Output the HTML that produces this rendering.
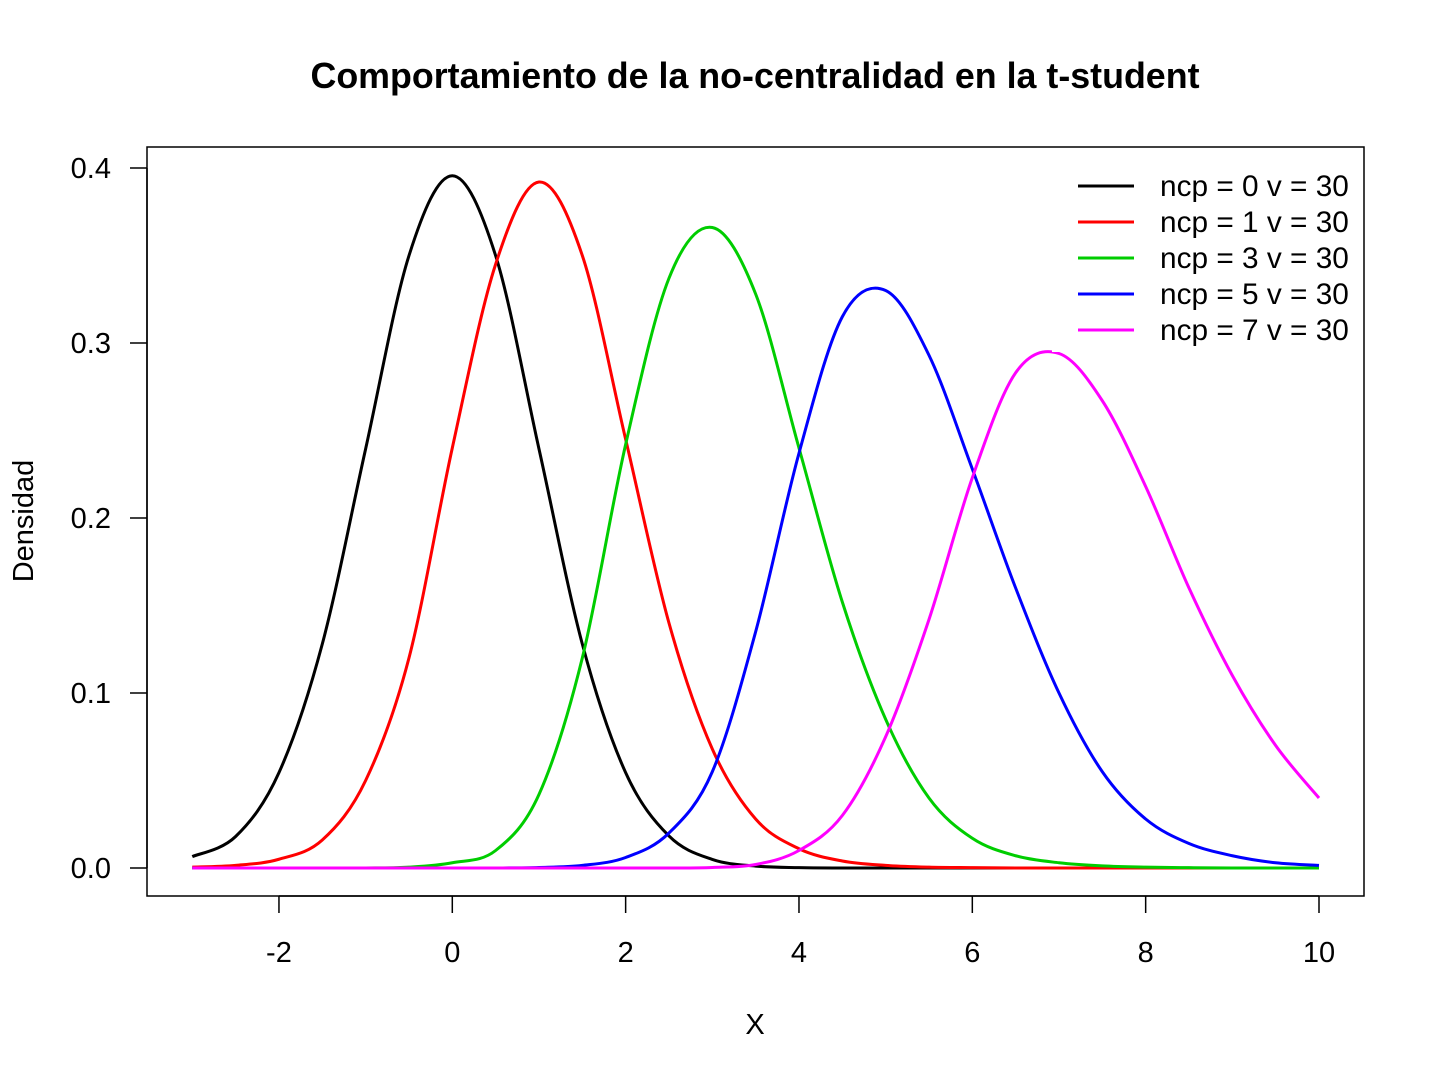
<!DOCTYPE html>
<html><head><meta charset="utf-8"><style>
body{margin:0;background:#fff;}
svg text{font-family:"Liberation Sans",Arial,sans-serif;}
</style></head><body>
<svg id="chart" width="1440" height="1080" viewBox="0 0 1440 1080" xmlns="http://www.w3.org/2000/svg">
<rect width="1440" height="1080" fill="#fff"/>
<text x="755" y="88" font-size="35.8" font-weight="bold" text-anchor="middle">Comportamiento de la no-centralidad en la t-student</text>
<text x="755" y="1034" font-size="29" text-anchor="middle">X</text>
<text x="33" y="521" font-size="29" text-anchor="middle" transform="rotate(-90 33 521)">Densidad</text>
<g id="series"></g>
<rect x="1052" y="163" width="310" height="189" fill="#fff"/>
<rect x="147" y="147" width="1217" height="749" fill="none" stroke="#000" stroke-width="1.5"/>
<g id="axes"></g>
<g id="legend"></g>
</svg>
<script>
const xs=[-3,-2.5,-2,-1.5,-1,-0.5,0,0.5,1,1.5,2,2.5,3,3.5,4,4.5,5,5.5,6,6.5,7,7.5,8,8.5,9,9.5,10];
const s0=[0.0065,0.018,0.0545,0.128,0.2395,0.3499,0.3956,0.3499,0.2395,0.128,0.0545,0.0183,0.0049,0.0011,0.0002,0,0,0,0,0,0,0,0,0,0,0,0];
const s1=[0.0005,0.0015,0.005,0.016,0.05,0.12,0.24,0.345,0.392,0.35,0.245,0.14,0.068,0.028,0.011,0.004,0.0015,0.0005,0.0002,0,0,0,0,0,0,0,0];
const s3=[0,0,0,0,0,0.0005,0.003,0.01,0.042,0.12,0.242,0.337,0.366,0.328,0.24,0.152,0.085,0.04,0.017,0.007,0.003,0.0012,0.0005,0.0002,0,0,0];
const s5=[0,0,0,0,0,0,0,0,0.0003,0.0015,0.006,0.02,0.055,0.135,0.237,0.315,0.33,0.293,0.228,0.16,0.1,0.055,0.028,0.014,0.007,0.003,0.0015];
const s7=[0,0,0,0,0,0,0,0,0,0,0,0,0.0003,0.002,0.01,0.03,0.075,0.142,0.223,0.283,0.294,0.267,0.218,0.16,0.11,0.07,0.04];
const seriesNames=["ncp = 0 v = 30","ncp = 1 v = 30","ncp = 3 v = 30","ncp = 5 v = 30","ncp = 7 v = 30"];
const seriesColors=["#000000","#ff0000","#00cd00","#0000ff","#ff00ff"];
const xTicks=[-2,0,2,4,6,8,10];
const yTicks=[0,0.1,0.2,0.3,0.4];
const yTickLabels=["0.0","0.1","0.2","0.3","0.4"];
const allSeries=[s0,s1,s3,s5,s7];
const NS="http://www.w3.org/2000/svg";
const X=v=>452.3+v*86.67, Y=v=>868-v*1750;
function mk(t,a,p){const e=document.createElementNS(NS,t);for(const k in a)e.setAttribute(k,a[k]);p.appendChild(e);return e;}
const sg=document.getElementById('series');
allSeries.forEach((s,i)=>{
  const P=xs.map((x,j)=>[X(x),Y(s[j])]);
  let d=`M${P[0][0]},${P[0][1]}`;
  for(let j=0;j<P.length-1;j++){const p0=P[Math.max(j-1,0)],p1=P[j],p2=P[j+1],p3=P[Math.min(j+2,P.length-1)];
    d+=`C${p1[0]+(p2[0]-p0[0])/6},${p1[1]+(p2[1]-p0[1])/6} ${p2[0]-(p3[0]-p1[0])/6},${p2[1]-(p3[1]-p1[1])/6} ${p2[0]},${p2[1]}`;}
  const e=mk('path',{d:d,fill:'none',stroke:seriesColors[i],'stroke-width':3},sg);
  
  
});
const ax=document.getElementById('axes');
const xl=mk('line',{x1:X(-2),x2:X(10),y1:896,y2:896,stroke:'#000','stroke-width':1.5},ax);


xTicks.forEach(t=>{
  const l=mk('line',{x1:X(t),x2:X(t),y1:896,y2:913,stroke:'#000','stroke-width':1.5},ax);
  
  
  const tx=mk('text',{x:X(t),y:962,'font-size':29,'text-anchor':'middle'},ax);tx.textContent=t;
  
  
});
const yl=mk('line',{x1:147,x2:147,y1:Y(0),y2:Y(0.4),stroke:'#000','stroke-width':1.5},ax);


yTicks.forEach((t,i)=>{
  const l=mk('line',{x1:130,x2:147,y1:Y(t),y2:Y(t),stroke:'#000','stroke-width':1.5},ax);
  
  
  const tx=mk('text',{x:111,y:Y(t)+10,'font-size':29,'text-anchor':'end'},ax);tx.textContent=yTickLabels[i];
  
  
});
const lg=document.getElementById('legend');
seriesNames.forEach((n,i)=>{
  const y=186+i*36;
  const l=mk('line',{x1:1078,x2:1134,y1:y,y2:y,stroke:seriesColors[i],'stroke-width':3},lg);
  
  
  const t=mk('text',{x:1160,y:y+10,'font-size':29.8},lg);t.textContent=n;
  
  
});
</script>
</body></html>
